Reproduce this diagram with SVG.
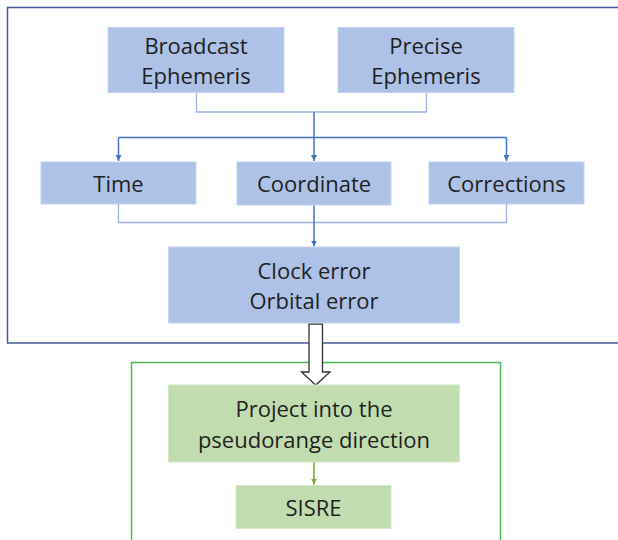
<svg xmlns="http://www.w3.org/2000/svg" width="618" height="540" viewBox="0 0 618 540">
<style>
.bf{fill:#ADC2E6;stroke:#C4D3EE;stroke-width:1}
.gf{fill:#C1DDAF;stroke:#D3E8C6;stroke-width:1}
.t{font-family:"Open Sans","Liberation Sans",sans-serif;font-size:22px;fill:#1F1F1F;text-anchor:middle}
.lc{fill:none;stroke:#9DB4E0;stroke-width:1.3}
.ac{fill:none;stroke:#4472C4;stroke-width:1.5}
.gc{fill:none;stroke:#70AD47;stroke-width:1.6}
</style>
<defs>
<marker id="ab" viewBox="0 0 10 10" refX="10" refY="5" markerWidth="6" markerHeight="6" markerUnits="userSpaceOnUse" orient="auto">
<path d="M0,0 L10,5 L0,10 z" fill="#4472C4"/>
</marker>
<marker id="ag" viewBox="0 0 10 10" refX="10" refY="5" markerWidth="6" markerHeight="6" markerUnits="userSpaceOnUse" orient="auto">
<path d="M0,0 L10,5 L0,10 z" fill="#70AD47"/>
</marker>
</defs>
<rect width="618" height="540" fill="#FFFFFF"/>
<g id="frames">
<path d="M620,7.5 H7.5 V343 H620" fill="none" stroke="#41599A" stroke-width="1.5"/>
<path d="M131.5,545 V362.5 H500.5 V545" fill="none" stroke="#4CBB5C" stroke-width="1.5"/>
</g>
<g id="connectors">
<path class="lc" d="M196.5,92 V112 H426.5 V92"/>
<path class="ac" d="M314,112 V161" marker-end="url(#ab)"/>
<path class="ac" d="M118.5,137.5 H506.5"/>
<path class="ac" d="M118.5,137.5 V161" marker-end="url(#ab)"/>
<path class="ac" d="M506.5,137.5 V161" marker-end="url(#ab)"/>
<path class="lc" d="M118.5,204 V222.5 H506.5 V204"/>
<path class="ac" d="M314,205 V246.5" marker-end="url(#ab)"/>
<path d="M309,324 H322.5 V372 H330 L315.7,385 L301.5,372 H309 Z" fill="#FFFFFF" stroke="#333333" stroke-width="1.3"/>
<path class="gc" d="M314,462 V484.5" marker-end="url(#ag)"/>
</g>
<g id="broadcast">
<rect class="bf" x="108" y="27.5" width="176" height="65"/>
<text class="t" x="196" y="53.5">Broadcast</text>
<text class="t" x="196" y="83.5">Ephemeris</text>
</g>
<g id="precise">
<rect class="bf" x="338" y="27.5" width="176" height="65"/>
<text class="t" x="426" y="53.5">Precise</text>
<text class="t" x="426" y="83.5">Ephemeris</text>
</g>
<g id="time">
<rect class="bf" x="41" y="162" width="155" height="42"/>
<text class="t" x="118.5" y="191.5">Time</text>
</g>
<g id="coordinate">
<rect class="bf" x="237" y="162" width="154" height="43"/>
<text class="t" x="314" y="191.5">Coordinate</text>
</g>
<g id="corrections">
<rect class="bf" x="429" y="162" width="155" height="42"/>
<text class="t" x="506.5" y="191.5">Corrections</text>
</g>
<g id="clock">
<rect class="bf" x="168.5" y="247" width="291" height="76"/>
<text class="t" x="314" y="278.5">Clock error</text>
<text class="t" x="314" y="309">Orbital error</text>
</g>
<g id="project">
<rect class="gf" x="168.5" y="385" width="291" height="77"/>
<text class="t" x="314" y="417">Project into the</text>
<text class="t" x="314" y="447.5">pseudorange direction</text>
</g>
<g id="sisre">
<rect class="gf" x="236" y="485.5" width="155" height="43"/>
<text class="t" x="313.5" y="515.5">SISRE</text>
</g>
</svg>
